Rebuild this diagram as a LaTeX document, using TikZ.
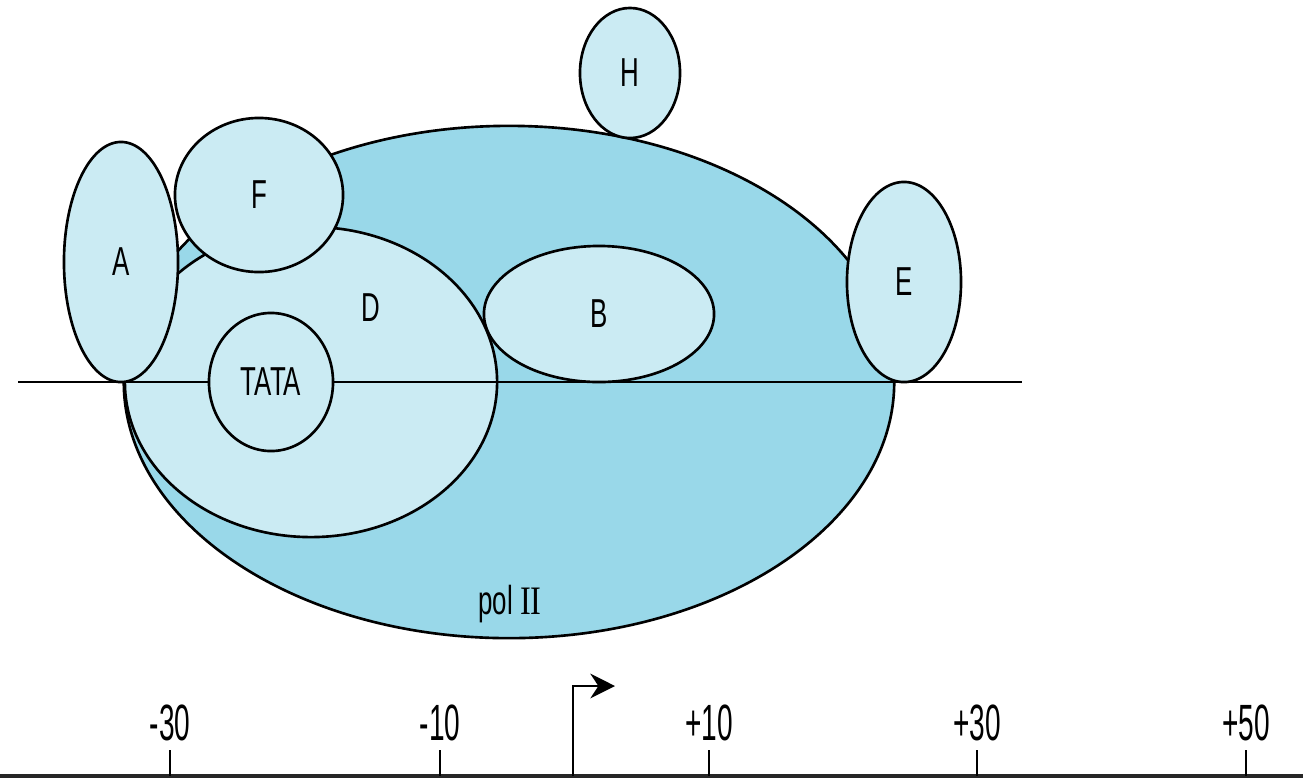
\documentclass[tikz,border=0pt]{standalone}
\usepackage{fontspec}
\setmainfont[FakeStretch=0.64]{Liberation Sans}
\newfontfamily\numfont[FakeStretch=0.55]{Liberation Sans}
\newfontfamily\serifII[FakeStretch=0.8]{Liberation Serif}
\usetikzlibrary{shapes.geometric,arrows.meta}
\definecolor{polblue}{HTML}{99D8E9}
\definecolor{lightblue}{HTML}{CBEBF3}
\begin{document}
\begin{tikzpicture}[x=0.01cm,y=-0.01cm,
  blob/.style={ellipse, draw=black, line width=0.75pt, fill=lightblue, inner sep=0pt},
  lbl/.style={font=\fontsize{11.5}{12}\selectfont, inner sep=0pt},
  numlbl/.style={font=\numfont\fontsize{14.5}{15}\selectfont, inner sep=0pt},
  dna/.style={line width=0.8pt, black},
  tick/.style={line width=0.4pt, black}]
\useasboundingbox (0,0) rectangle (1303,781);
% pol II
\node[blob, fill=polblue, minimum width=7.70cm, minimum height=5.12cm] (pol) at (509,382) {};
\node[lbl] (polt) at (510,604) {pol {\serifII II}};
% D
\node[blob, minimum width=3.72cm, minimum height=3.10cm] (D) at (311,382) {};
\node[lbl] (Dt) at (371,308) {D};
% DNA line
\coordinate (dnaL) at (18,382);
\coordinate (dnaR) at (1022,382);
\draw[dna] (dnaL) -- (dnaR);
% TATA
\node[blob, minimum width=1.24cm, minimum height=1.38cm, lbl] (TATA) at (271,382) {TATA};
% B
\node[blob, minimum width=2.30cm, minimum height=1.36cm, lbl] (B) at (599,314) {B};
% A
\node[blob, minimum width=1.14cm, minimum height=2.40cm, lbl] (A) at (121,262) {A};
% F
\node[blob, minimum width=1.68cm, minimum height=1.54cm, lbl] (F) at (259,195) {F};
% E
\node[blob, minimum width=1.14cm, minimum height=2.00cm, lbl] (E) at (904,282) {E};
% H
\node[blob, minimum width=1.00cm, minimum height=1.30cm, lbl] (H) at (630,73) {H};
% axis
\coordinate (axL) at (0,776);
\coordinate (axR) at (1303,776);
\draw[line width=1.1pt, black!85] (axL) -- (axR);
\foreach \x/\t/\n in {170/{-30}/m30, 440/{-10}/m10, 709/{+10}/p10, 977/{+30}/p30, 1246/{+50}/p50}{
  \coordinate (t\n) at (\x,776);
  \coordinate (tt\n) at (\x,750);
  \draw[tick] (t\n) -- (tt\n);
  \node[numlbl] (l\n) at (\x,723) {\t};
}
% transcription start
\coordinate (tss) at (573,776);
\coordinate (tssend) at (615,686);
\draw[line width=0.8pt, -{Stealth[length=7pt, width=7pt]}] (tss) |- (tssend);
\end{tikzpicture}
\end{document}
